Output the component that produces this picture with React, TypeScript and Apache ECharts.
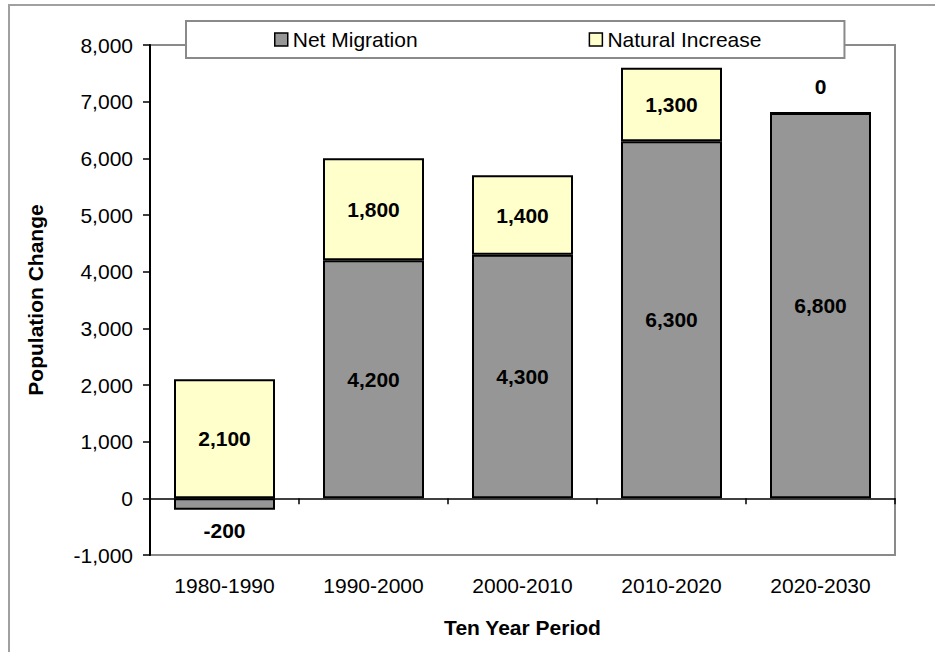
import React, { useEffect, useRef } from "react";
import * as echarts from "echarts";

const categories = ["1980-1990", "1990-2000", "2000-2010", "2010-2020", "2020-2030"];
const netMigration = [-200, 4200, 4300, 6300, 6800];
const naturalIncrease = [2100, 1800, 1400, 1300, 0];
const yMin = -1000;
const yMax = 8000;
const yStep = 1000;

const FONT = "'Liberation Sans', Arial, sans-serif";
const fmt = (v: number) => Number(v).toLocaleString("en-US");

export default function App() {
  const ref = useRef<HTMLDivElement>(null);
  useEffect(() => {
    if (!ref.current) return;
    const chart = echarts.init(ref.current, undefined, { renderer: "svg" });
    const labelBase = {
      show: true,
      fontFamily: FONT,
      fontSize: 21,
      fontWeight: "bold" as const,
      color: "#000",
      formatter: (p: any) => fmt(p.value),
    };
    const mkData = (arr: number[]) =>
      arr.map((v) => {
        if (v < 0) return { value: v, label: { position: "bottom", distance: 10 } };
        if (v === 0) return { value: v, label: { position: "top", distance: 15 } };
        return { value: v };
      });
    chart.setOption({
      animation: false,
      backgroundColor: "#fff",
      textStyle: { fontFamily: FONT },
      graphic: [
        {
          type: "rect",
          z: -10,
          silent: true,
          shape: { x: 9, y: 5, width: 1200, height: 1200 },
          style: { fill: "none", stroke: "#a0a0a0", lineWidth: 2 },
        },
      ],
      grid: {
        left: 150,
        top: 45,
        right: 40,
        bottom: 97,
        show: true,
        borderColor: "#8a8a8a",
        borderWidth: 2,
        backgroundColor: "transparent",
      },
      legend: {
        left: 186,
        top: 21,
        orient: "horizontal",
        backgroundColor: "#fff",
        borderColor: "#8a8a8a",
        borderWidth: 2,
        padding: [8, 83, 8, 88],
        itemGap: 171,
        itemWidth: 13,
        itemHeight: 13,
        icon: "rect",
        textStyle: { fontFamily: FONT, fontSize: 21, color: "#000" },
        itemStyle: { borderColor: "#000", borderWidth: 1.5 },
        data: ["Net Migration", "Natural Increase"],
      },
      xAxis: [
        {
          type: "category",
          data: categories,
          position: "bottom",
          axisLine: { show: false, onZero: false },
          axisTick: { show: false },
          axisLabel: { fontFamily: FONT, fontSize: 21, color: "#000", margin: 20 },
          name: "Ten Year Period",
          nameLocation: "middle",
          nameGap: 62,
          nameTextStyle: { fontFamily: FONT, fontSize: 21, fontWeight: "bold", color: "#000" },
        },
        {
          type: "category",
          data: categories,
          position: "bottom",
          axisLine: { show: true, onZero: true, lineStyle: { color: "#000", width: 1.5 } },
          axisTick: { show: true, length: 6, lineStyle: { color: "#000", width: 1.5 } },
          axisLabel: { show: false },
        },
      ],
      yAxis: {
        type: "value",
        min: yMin,
        max: yMax,
        interval: yStep,
        splitLine: { show: false },
        axisLine: { show: true, lineStyle: { color: "#000", width: 2 } },
        axisTick: { show: true, length: 7, lineStyle: { color: "#000", width: 1.5 } },
        axisLabel: {
          fontFamily: FONT,
          fontSize: 21,
          color: "#000",
          margin: 17,
          formatter: (v: number) => fmt(v),
        },
        name: "Population Change",
        nameLocation: "middle",
        nameGap: 104,
        nameRotate: 90,
        nameTextStyle: { fontFamily: FONT, fontSize: 21, fontWeight: "bold", color: "#000" },
      },
      series: [
        {
          name: "Net Migration",
          type: "bar",
          stack: "total",
          xAxisIndex: 0,
          barWidth: 101,
          itemStyle: { color: "#969696", borderColor: "#000", borderWidth: 2 },
          label: { ...labelBase, position: "inside" },
          data: mkData(netMigration),
        },
        {
          name: "Natural Increase",
          type: "bar",
          stack: "total",
          xAxisIndex: 0,
          barWidth: 101,
          itemStyle: { color: "#FFFFCC", borderColor: "#000", borderWidth: 2 },
          label: { ...labelBase, position: "inside" },
          data: mkData(naturalIncrease),
        },
      ],
    });
    return () => chart.dispose();
  }, []);
  return (
    <div
      ref={ref}
      style={{ position: "absolute", left: 0, top: 0, width: 935, height: 652 }}
    />
  );
}
